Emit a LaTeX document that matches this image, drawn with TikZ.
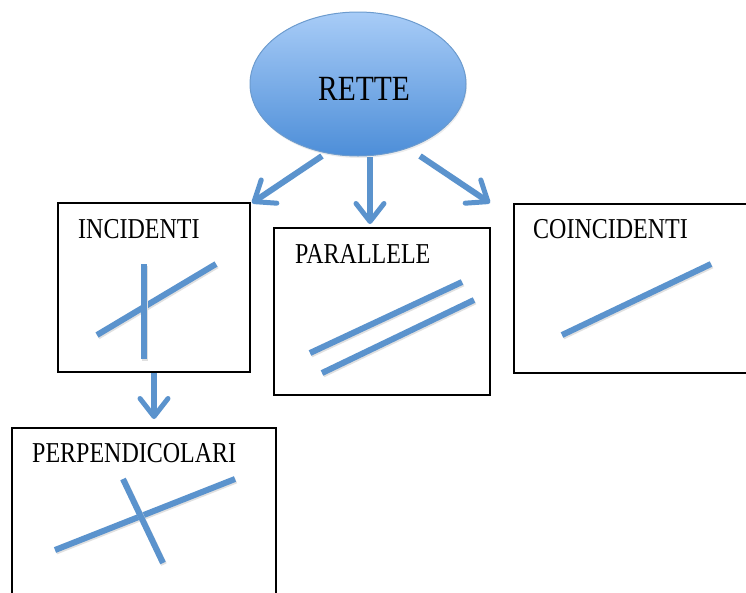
\documentclass[tikz,border=0pt]{standalone}
\usepackage{fontspec}
\setmainfont{Liberation Serif}
\usetikzlibrary{arrows.meta,shadows,shapes.geometric}
\definecolor{lineblue}{HTML}{5B93CD}
\definecolor{topblue}{HTML}{A8CCF7}
\definecolor{botblue}{HTML}{4D8ED8}
\definecolor{edgeblue}{HTML}{6C9BCE}
\newcommand{\tall}[1]{\scalebox{1}[1.2]{#1}}
\tikzset{
  box/.style={draw=black, line width=1.8pt, fill=white},
  lbl/.style={anchor=base west, inner sep=0pt, font=\fontsize{24}{28}\selectfont},
  seg/.style={draw=lineblue, line width=6pt,
    preaction={draw=black!12, line width=6pt, transform canvas={shift={(1pt,-1.5pt)}}}},
  arr/.style={draw=lineblue, line width=6pt,
    -{Straight Barb[length=18pt, width=28pt, line width=5pt, round]}},
}
\begin{document}
\begin{tikzpicture}[x=1pt, y=-1pt]
\useasboundingbox (0,0) rectangle (746,592);
% ellipse
\node (rette) [ellipse, minimum width=216pt, minimum height=144pt, draw=edgeblue, line width=1pt,
  top color=topblue, bottom color=botblue, drop shadow={opacity=0.15, shadow xshift=1pt, shadow yshift=-2pt}] at (358,84) {};
\node (rettelbl) [lbl, font=\fontsize{29.5}{34}\selectfont] at (318,100) {\tall{RETTE}};
% boxes
\node (inc) [box, minimum width=192pt, minimum height=169pt, inner sep=0pt] at (154,287.5) {};
\node (par) [box, minimum width=216pt, minimum height=167pt, inner sep=0pt] at (382,311.5) {};
\node (coi) [box, minimum width=240pt, minimum height=169pt, inner sep=0pt, anchor=north west] at (513,203) {};
\node (per) [box, minimum width=264pt, minimum height=200pt, inner sep=0pt, anchor=north west] at (11,427) {};
% labels
\node (inclbl) [lbl] at (78,238) {\tall{INCIDENTI}};
\node (parlbl) [lbl] at (295,263) {\tall{PARALLELE}};
\node (coilbl) [lbl] at (533,238) {\tall{COINCIDENTI}};
\node (perlbl) [lbl] at (32,462) {\tall{PERPENDICOLARI}};
% arrows
\coordinate (a1s) at (322,156); \coordinate (a1e) at (252,203);
\coordinate (a2s) at (370,157); \coordinate (a2e) at (370,224);
\coordinate (a3s) at (420,156); \coordinate (a3e) at (490,203);
\coordinate (a4s) at (154,373); \coordinate (a4e) at (154,419);
\draw[arr] (a1s) -- (a1e);
\draw[arr] (a2s) -- (a2e);
\draw[arr] (a3s) -- (a3e);
\draw[arr] (a4s) -- (a4e);
% line drawings
\coordinate (i1) at (144,264); \coordinate (i2) at (144,359);
\coordinate (i3) at (97,335); \coordinate (i4) at (216,264);
\draw[seg] (i3) -- (i4);
\draw[seg] (i1) -- (i2);
\coordinate (p1) at (310,353); \coordinate (p2) at (462,282);
\coordinate (p3) at (322,373); \coordinate (p4) at (474,300);
\draw[seg] (p1) -- (p2);
\draw[seg] (p3) -- (p4);
\coordinate (c1) at (562,335); \coordinate (c2) at (711,264);
\draw[seg] (c1) -- (c2);
\coordinate (q1) at (55,550); \coordinate (q2) at (235,479);
\coordinate (q3) at (123,479); \coordinate (q4) at (163,563);
\draw[seg] (q1) -- (q2);
\draw[seg] (q3) -- (q4);
\end{tikzpicture}
\end{document}
